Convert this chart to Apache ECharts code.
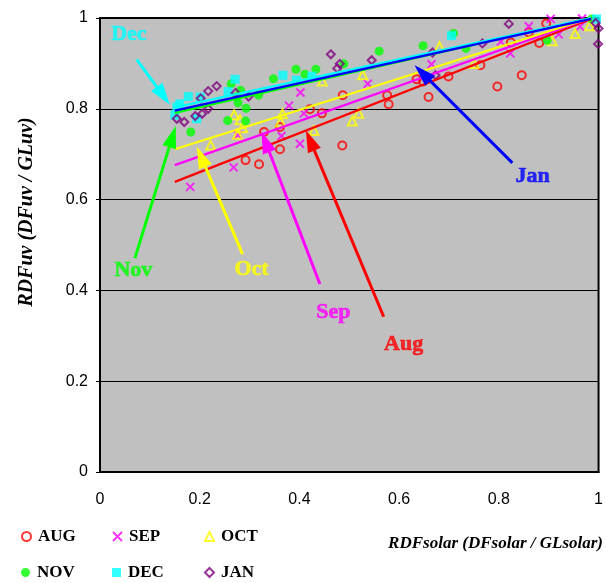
<!DOCTYPE html>
<html>
<head>
<meta charset="utf-8">
<script src="https://cdn.jsdelivr.net/npm/echarts@6/dist/echarts.min.js"></script>
<style>
html,body{margin:0;padding:0;background:#fff;}
#chart{width:606px;height:583px;}
</style>
</head>
<body>
<div id="chart"></div>
<script>
// ---- data ----
const months = ['AUG', 'SEP', 'OCT', 'NOV', 'DEC', 'JAN'];
const xTicks = [0, 0.2, 0.4, 0.6, 0.8, 1];

const augPoints = [[0.292,0.687],[0.319,0.678],[0.361,0.711],[0.329,0.749],[0.361,0.760],[0.421,0.799],[0.445,0.790],[0.486,0.719],[0.487,0.830],[0.576,0.830],[0.579,0.810],[0.635,0.865],[0.648,0.860],[0.659,0.826],[0.699,0.871],[0.763,0.896],[0.797,0.849],[0.846,0.874],[0.881,0.945],[0.824,0.946],[0.860,0.968],[0.895,0.988]];
const sepPoints = [[0.181,0.628],[0.268,0.671],[0.277,0.742],[0.364,0.740],[0.401,0.723],[0.379,0.807],[0.402,0.836],[0.409,0.790],[0.537,0.855],[0.665,0.898],[0.823,0.922],[0.804,0.948],[0.860,0.982],[0.920,0.964],[0.963,0.981],[0.904,0.998],[0.967,0.999]];
const octPoints = [[0.222,0.720],[0.269,0.787],[0.281,0.776],[0.276,0.744],[0.286,0.758],[0.366,0.789],[0.362,0.771],[0.429,0.752],[0.446,0.861],[0.527,0.875],[0.506,0.773],[0.519,0.790],[0.681,0.937],[0.750,0.900],[0.907,0.950],[0.953,0.966],[0.982,0.983]];
const novPoints = [[0.182,0.749],[0.256,0.774],[0.292,0.773],[0.293,0.801],[0.277,0.813],[0.282,0.841],[0.263,0.855],[0.318,0.830],[0.274,0.827],[0.348,0.866],[0.393,0.887],[0.411,0.876],[0.433,0.887],[0.489,0.899],[0.560,0.927],[0.648,0.939],[0.709,0.966],[0.734,0.933],[0.897,0.951],[0.986,0.998]];
const decPoints = [[0.150,0.786],[0.154,0.804],[0.160,0.811],[0.177,0.827],[0.201,0.826],[0.194,0.778],[0.257,0.838],[0.271,0.865],[0.367,0.874],[0.394,0.863],[0.425,0.872],[0.705,0.961],[0.996,0.998]];
const janPoints = [[0.154,0.778],[0.169,0.771],[0.191,0.784],[0.205,0.789],[0.217,0.800],[0.202,0.823],[0.217,0.839],[0.234,0.850],[0.272,0.835],[0.298,0.827],[0.463,0.920],[0.481,0.899],[0.476,0.889],[0.545,0.907],[0.667,0.924],[0.673,0.874],[0.767,0.944],[0.820,0.987],[0.999,0.943],[1.0,0.977],[0.994,0.989]];

// regression lines (start / end of each fitted line)
const fitStartX = 0.15;
const fitEndX = 0.985;
const fitStartY = [0.639, 0.676, 0.711, 0.791, 0.803, 0.796];
const fitEndY = [0.998, 1.0, 1.0, 1.0, 1.0, 0.998];

// annotations: label, label position, arrow tail, arrow tip
const noteNames = ['Dec', 'Nov', 'Oct', 'Sep', 'Aug', 'Jan'];
const noteLabelPos = [[0.058,0.963],[0.067,0.445],[0.304,0.446],[0.468,0.351],[0.609,0.281],[0.868,0.652]];
const noteTail = [[0.0735,0.909],[0.070,0.471],[0.286,0.480],[0.441,0.414],[0.569,0.342],[0.827,0.681]];
const noteTip = [[0.140,0.809],[0.152,0.762],[0.194,0.717],[0.324,0.750],[0.413,0.753],[0.631,0.896]];
// ---- end data ----

const pointSets = [augPoints, sepPoints, octPoints, novPoints, decPoints, janPoints];
const markerColors = ['#FF0000', '#FF00FF', '#FFFF00', '#00FF00', '#00FFFF', '#800080'];
const lineColors = ['#FF0000', '#FF00FF', '#FFFF00', '#00FF00', '#00FFFF', '#0000FF'];
const noteColors = ['#00FFFF', '#00FF00', '#FFFF00', '#FF00FF', '#FF0000', '#0000FF'];
const crossPath = 'path://M0,0L10,10M10,0L0,10';
const symbols = ['circle', crossPath, 'triangle', 'circle', 'rect', 'diamond'];
const hollow = [true, true, true, false, false, true];
const sizes = [8, 8, 9, 9, 9, 8];

const serif = '"Liberation Serif", "Times New Roman", serif';
const sans = '"Liberation Sans", Arial, sans-serif';

const series = [];
months.forEach((m, i) => {
  series.push({
    name: m,
    type: 'scatter',
    data: pointSets[i],
    symbol: symbols[i],
    symbolSize: sizes[i],
    z: 2,
    itemStyle: hollow[i]
      ? { color: 'transparent', borderColor: markerColors[i], borderWidth: 2 }
      : { color: markerColors[i] }
  });
});
// fitted lines drawn after markers
[0, 1, 2, 3, 4, 5].forEach(i => {
  series.push({
    name: months[i] + ' fit',
    type: 'line',
    data: [[fitStartX, fitStartY[i]], [fitEndX, fitEndY[i]]],
    symbol: 'none',
    z: 3,
    clip: false,
    lineStyle: { color: lineColors[i], width: 2.2 }
  });
});
// annotation arrows (custom series positioned through the axes)
const HEAD_LEN = 22, HEAD_HALF = 7;
series.push({
  name: 'arrows',
  type: 'custom',
  z: 4,
  silent: true,
  data: noteNames.map((n, i) => [noteTail[i][0], noteTail[i][1], noteTip[i][0], noteTip[i][1], i]),
  renderItem: function (params, api) {
    const p0 = api.coord([api.value(0), api.value(1)]);
    const p1 = api.coord([api.value(2), api.value(3)]);
    const c = noteColors[api.value(4)];
    const dx = p1[0] - p0[0], dy = p1[1] - p0[1];
    const len = Math.sqrt(dx * dx + dy * dy);
    const ux = dx / len, uy = dy / len;
    const bx = p1[0] - ux * HEAD_LEN, by = p1[1] - uy * HEAD_LEN;
    return {
      type: 'group',
      children: [
        { type: 'line', shape: { x1: p0[0], y1: p0[1], x2: bx + ux * 2, y2: by + uy * 2 },
          style: { stroke: c, lineWidth: 3 } },
        { type: 'polygon', shape: { points: [[p1[0], p1[1]], [bx - uy * HEAD_HALF, by + ux * HEAD_HALF], [bx + uy * HEAD_HALF, by - ux * HEAD_HALF]] },
          style: { fill: c } }
      ]
    };
  }
});
// annotation texts
series.push({
  name: 'notes',
  type: 'scatter',
  symbolSize: 0,
  z: 5,
  data: noteNames.map((n, i) => ({
    name: n,
    value: noteLabelPos[i],
    label: {
      show: true, position: 'inside', formatter: '{b}',
      color: noteColors[i], fontFamily: serif, fontWeight: 'bold', fontSize: 22,
      textBorderColor: noteColors[i], textBorderWidth: 0.6
    }
  }))
});

const legendLeft = [21, 112, 204];
const legendTop = [528, 564];
const legends = months.map((m, i) => ({
  data: [m],
  left: legendLeft[i % 3],
  top: legendTop[Math.floor(i / 3)],
  padding: 0,
  itemWidth: 9,
  itemHeight: 9,
  itemGap: 0,
  selectedMode: false,
  textStyle: { fontFamily: serif, fontWeight: 'bold', fontSize: 17, color: '#000', padding: [0, 0, 0, 2] }
}));

const chart = echarts.init(document.getElementById('chart'), null, { renderer: 'canvas' });
chart.setOption({
  animation: false,
  backgroundColor: '#FFFFFF',
  legend: legends,
  grid: {
    left: 100, right: 7, top: 18, bottom: 111,
    show: true, backgroundColor: '#C0C0C0', borderColor: '#000', borderWidth: 2
  },
  xAxis: {
    type: 'value', min: xTicks[0], max: xTicks[xTicks.length - 1], interval: 0.2,
    axisLine: { show: true, lineStyle: { color: '#000', width: 2 } },
    axisTick: { show: false },
    splitLine: { show: false },
    axisLabel: { color: '#000', fontFamily: sans, fontSize: 16, margin: 20 }
  },
  yAxis: {
    type: 'value', min: 0, max: 1, interval: 0.2,
    axisLine: { show: true, lineStyle: { color: '#000', width: 2 } },
    axisTick: { show: true, length: 4, lineStyle: { color: '#000' } },
    splitLine: { show: true, lineStyle: { color: '#000', width: 1 } },
    axisLabel: { color: '#000', fontFamily: sans, fontSize: 16, margin: 12 }
  },
  graphic: [
    {
      type: 'text', x: 27, y: 212, rotation: Math.PI / 2,
      style: { text: 'RDFuv (DFuv / GLuv)', fontFamily: serif, fontWeight: 'bold', fontStyle: 'italic',
               fontSize: 20, fill: '#000', align: 'center', verticalAlign: 'middle' }
    },
    {
      type: 'text', x: 603, y: 544,
      style: { text: 'RDFsolar (DFsolar / GLsolar)', fontFamily: serif, fontWeight: 'bold', fontStyle: 'italic',
               fontSize: 17, fill: '#000', align: 'right', verticalAlign: 'middle' }
    }
  ],
  series: series
});
</script>
</body>
</html>
